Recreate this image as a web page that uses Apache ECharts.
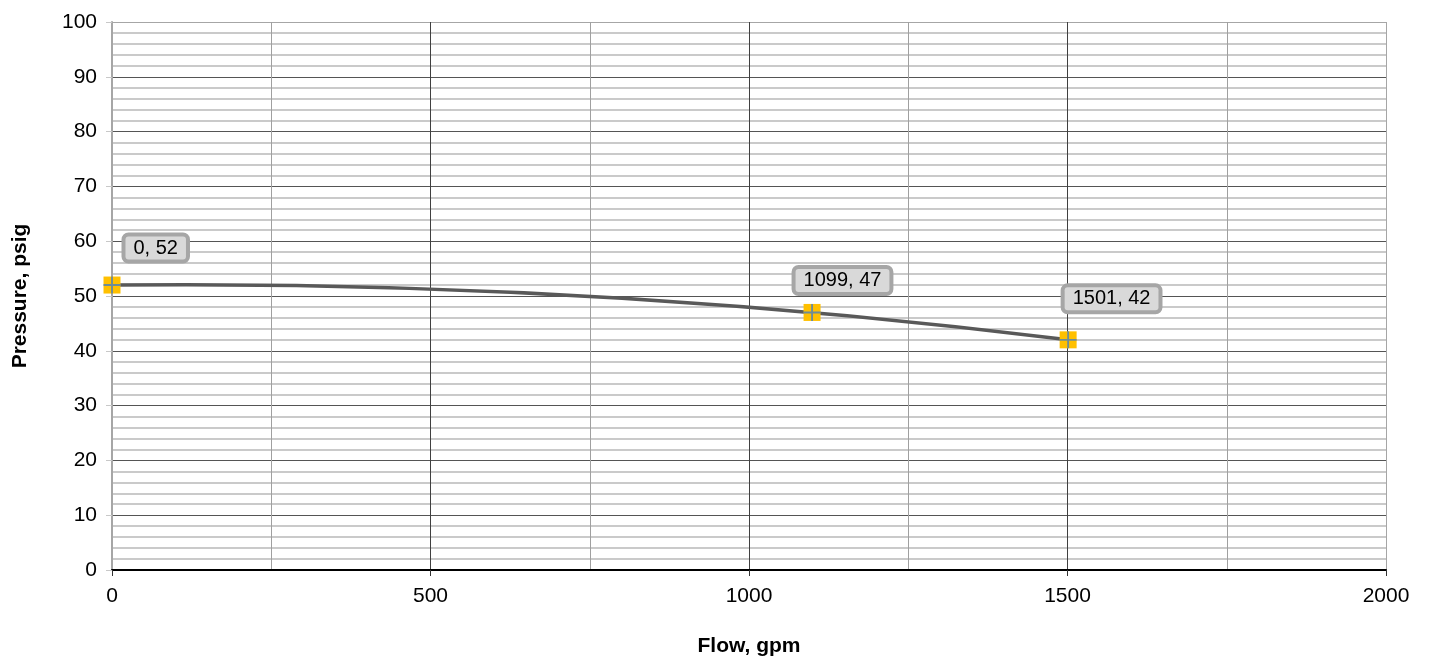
<!DOCTYPE html>
<html>
<head>
<meta charset="utf-8">
<script src="https://cdn.jsdelivr.net/npm/echarts@6/dist/echarts.min.js"></script>
<style>html,body{margin:0;padding:0;background:#fff}#c{width:1430px;height:658px}</style>
</head>
<body>
<div id="c"></div>
<script>
const flow = [0, 1099, 1501];
const pressure = [52, 47, 42];
const xTitle = 'Flow, gpm';
const yTitle = 'Pressure, psig';

const FONT = 'Arial, "Liberation Sans", sans-serif';
const pts = flow.map((f, i) => [f, pressure[i]]);
const offs = [[22, -40], [-8, -35], [5, -44]];
const labeled = pts.map((p, i) => ({ value: p, label: { position: offs[i] } }));

// Smoothed curve through the three measured points (parabolic Bezier, in pixel space)
function renderCurve(params, api) {
  if (params.dataIndex !== 0) return null;
  const P = pts.map((p) => api.coord(p));
  const t = (P[1][0] - P[0][0]) / (P[2][0] - P[0][0]);
  const a = (1 - t) * (1 - t), b = 2 * t * (1 - t), c = t * t;
  const cpx = (P[0][0] + P[2][0]) / 2;
  const cpy = (P[1][1] - a * P[0][1] - c * P[2][1]) / b;
  return {
    type: 'bezierCurve',
    shape: { x1: P[0][0], y1: P[0][1], x2: P[2][0], y2: P[2][1], cpx1: cpx, cpy1: cpy },
    style: { stroke: '#595959', lineWidth: 3.5, fill: null }
  };
}

const chart = echarts.init(document.getElementById('c'));
chart.setOption({
  animation: false,
  grid: { left: 112, right: 44, top: 22, bottom: 88, containLabel: false, outerBoundsMode: 'none' },
  xAxis: {
    type: 'value', min: 0, max: 2000, interval: 500,
    name: xTitle, nameLocation: 'middle', nameGap: 66,
    nameTextStyle: { fontFamily: FONT, fontSize: 21, fontWeight: 'bold', color: '#000' },
    axisLine: { show: true, onZero: false, lineStyle: { color: '#000', width: 2 } },
    axisTick: { show: true, length: 6, lineStyle: { color: '#333' } },
    axisLabel: { fontFamily: FONT, fontSize: 21, color: '#000', margin: 16, formatter: (v) => String(v) },
    splitLine: { show: true, lineStyle: { color: ['#404040', '#404040', '#404040', '#404040', '#a6a6a6'], width: 1 } },
    minorTick: { show: false, splitNumber: 2 },
    minorSplitLine: { show: true, lineStyle: { color: '#a0a0a0', width: 1 } }
  },
  yAxis: {
    type: 'value', min: 0, max: 100, interval: 10,
    name: yTitle, nameLocation: 'middle', nameGap: 81, nameRotate: 90,
    nameTextStyle: { fontFamily: FONT, fontSize: 21, fontWeight: 'bold', color: '#000' },
    axisLine: { show: true, lineStyle: { color: '#a6a6a6', width: 2 } },
    axisTick: { show: true, length: 6, lineStyle: { color: '#c8c8c8' } },
    axisLabel: { fontFamily: FONT, fontSize: 21, color: '#000', margin: 15, formatter: (v) => String(v) },
    splitLine: { show: true, lineStyle: { color: ['#555','#555','#555','#555','#555','#555','#555','#555','#555','#555','#a6a6a6'], width: 1 } },
    minorTick: { show: false, splitNumber: 5 },
    minorSplitLine: { show: true, lineStyle: { color: '#b8b8b8', width: 1.6 } }
  },
  series: [
    {
      type: 'custom', data: pts, renderItem: renderCurve, z: 3, silent: true,
      encode: { x: 0, y: 1 }
    },
    {
      type: 'scatter', data: labeled, symbol: 'rect', symbolSize: 17,
      itemStyle: { color: '#FFC000', opacity: 1 }, z: 4,
      label: {
        show: true,
        formatter: (p) => p.value[0] + ', ' + p.value[1],
        fontFamily: FONT, fontSize: 20, color: '#000', lineHeight: 21,
        backgroundColor: '#d9d9d9', borderColor: '#a6a6a6', borderWidth: 4,
        borderRadius: 3, padding: [1, 8, 1, 8]
      }
    },
    {
      type: 'scatter', data: pts, symbol: 'path://M8,0h2v8h8v2h-8v8h-2v-8h-8v-2h8z', symbolSize: 17,
      itemStyle: { color: '#4a7ebb' }, z: 5, silent: true
    }
  ]
});
</script>
</body>
</html>
